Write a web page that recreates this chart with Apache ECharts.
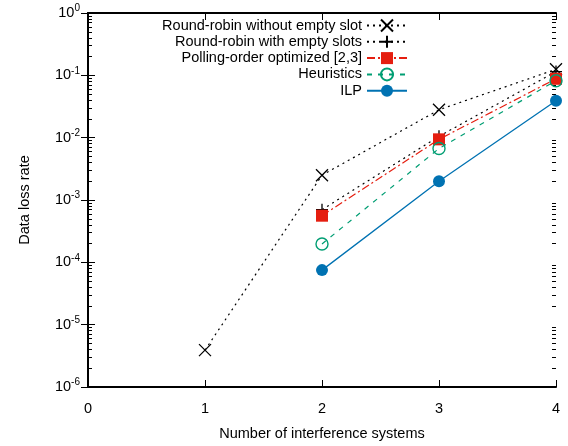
<!DOCTYPE html>
<html>
<head>
<meta charset="utf-8">
<script src="https://cdn.jsdelivr.net/npm/echarts@6/dist/echarts.min.js"></script>
<style>html,body{margin:0;padding:0;background:#fff}#c{width:568px;height:446px}</style>
</head>
<body>
<div id="c"></div>
<script>
const xTicks = [0, 1, 2, 3, 4];
const seriesNames = [
  'Round-robin without empty slot',
  'Round-robin with empty slots',
  'Polling-order optimized [2,3]',
  'Heuristics',
  'ILP'
];
const rrWithout = [[1, 3.9e-6], [2, 2.5e-3], [3, 0.028], [4, 0.125]];
const rrWith = [[2, 7e-4], [3, 0.0105], [4, 0.115]];
const polling = [[2, 5.6e-4], [3, 9.4e-3], [4, 0.088]];
const heuristics = [[2, 1.97e-4], [3, 6.7e-3], [4, 0.082]];
const ilp = [[2, 7.5e-5], [3, 2.0e-3], [4, 0.039]];
const yMin = 1e-6, yMax = 1;

// minor tick positions (log10 of 2..9 × 10^e)
const minorLog = [];
for (let e = -6; e < 0; e++) {
  for (let m = 2; m <= 9; m++) minorLog.push(Math.log10(m) + e);
}

const FONT = 'Liberation Sans, Arial, sans-serif';
const FS = 14.5;
const BLACK = '#000';
const cross = 'path://M0,0L10,10M10,0L0,10';
const plus = 'path://M5,0L5,10M0,5L10,5';

function majorAxis(pos, withLabels) {
  return {
    type: 'log', logBase: 10, min: yMin, max: yMax, position: pos,
    axisLine: { show: true, lineStyle: { color: BLACK, width: 2 } },
    axisTick: { show: true, inside: true, length: 7, lineStyle: { color: BLACK, width: 1 } },
    axisLabel: withLabels ? {
      show: true, margin: 8, fontFamily: FONT,
      formatter: function (v) {
        const e = Math.round(Math.log10(v));
        return '{b|10}{s|' + e + '}';
      },
      rich: {
        b: { fontSize: FS, fontFamily: FONT, color: '#000' },
        s: { fontSize: 10, fontFamily: FONT, color: '#000', verticalAlign: 'bottom', padding: [0, 0, 9, 0] }
      }
    } : { show: false },
    splitLine: { show: false },
    name: withLabels ? 'Data loss rate' : '',
    nameLocation: 'middle', nameGap: 56,
    nameTextStyle: { fontSize: FS, fontFamily: FONT, color: '#000' }
  };
}
function minorAxis(pos) {
  return {
    type: 'value', min: -6, max: 0, position: pos,
    axisLine: { show: true, onZero: false, lineStyle: { color: BLACK, width: 2, opacity: 0 } },
    axisTick: { show: true, inside: true, length: 4, lineStyle: { color: BLACK, width: 1 }, customValues: minorLog },
    axisLabel: { show: false },
    splitLine: { show: false }
  };
}

const chart = echarts.init(document.getElementById('c'), null, { renderer: 'canvas' });

const legends = seriesNames.map((n, i) => ({
  data: [n], right: 160, top: 18 + 16.3 * i, padding: 0,
  orient: 'vertical', align: 'right', itemWidth: 40, itemHeight: 15, itemGap: 0,
  selectedMode: false,
  textStyle: { fontSize: FS, fontFamily: FONT, color: '#000' }
}));

chart.setOption({
  animation: false,
  backgroundColor: '#fff',
  grid: { left: 88, right: 12, top: 13, bottom: 59, containLabel: false },
  legend: legends,
  xAxis: [
    {
      type: 'value', min: xTicks[0], max: xTicks[xTicks.length - 1], interval: 1, position: 'bottom',
      axisLine: { show: true, onZero: false, lineStyle: { color: BLACK, width: 2 } },
      axisTick: { show: true, inside: true, length: 7, lineStyle: { color: BLACK } },
      axisLabel: { show: true, margin: 14, fontSize: FS, fontFamily: FONT, color: '#000' },
      splitLine: { show: false },
      name: 'Number of interference systems', nameLocation: 'middle', nameGap: 39,
      nameTextStyle: { fontSize: FS, fontFamily: FONT, color: '#000' }
    },
    {
      type: 'value', min: xTicks[0], max: xTicks[xTicks.length - 1], interval: 1, position: 'top',
      axisLine: { show: true, onZero: false, lineStyle: { color: BLACK, width: 2 } },
      axisTick: { show: true, inside: true, length: 7, lineStyle: { color: BLACK } },
      axisLabel: { show: false }, splitLine: { show: false }
    }
  ],
  yAxis: [
    majorAxis('left', true),
    minorAxis('left'),
    majorAxis('right', false),
    minorAxis('right')
  ],
  series: [
    {
      name: seriesNames[0], type: 'line', data: rrWithout, symbol: cross, symbolSize: 12,
      lineStyle: { color: BLACK, width: 1.2, type: [2, 4] },
      itemStyle: { color: 'rgba(0,0,0,0)', borderColor: BLACK, borderWidth: 1.3 },
      z: 5
    },
    {
      name: seriesNames[1], type: 'line', data: rrWith, symbol: plus, symbolSize: 12,
      lineStyle: { color: BLACK, width: 1.2, type: [2, 4] },
      itemStyle: { color: 'rgba(0,0,0,0)', borderColor: BLACK, borderWidth: 1.3 },
      z: 4
    },
    {
      name: seriesNames[2], type: 'line', data: polling, symbol: 'rect', symbolSize: 12,
      lineStyle: { color: '#e51e10', width: 1.2, type: [8, 3, 2, 3] },
      itemStyle: { color: '#e51e10', borderWidth: 0 },
      z: 6
    },
    {
      name: seriesNames[3], type: 'line', data: heuristics, symbol: 'circle', symbolSize: 12,
      lineStyle: { color: '#009e73', width: 1.2, type: [5, 6] },
      itemStyle: { color: 'rgba(0,0,0,0)', borderColor: '#009e73', borderWidth: 1.4 },
      z: 7
    },
    {
      name: seriesNames[4], type: 'line', data: ilp, symbol: 'circle', symbolSize: 12,
      lineStyle: { color: '#0072b2', width: 1.3, type: 'solid' },
      itemStyle: { color: '#0072b2', borderWidth: 0 },
      z: 8
    }
  ]
});
</script>
</body>
</html>
